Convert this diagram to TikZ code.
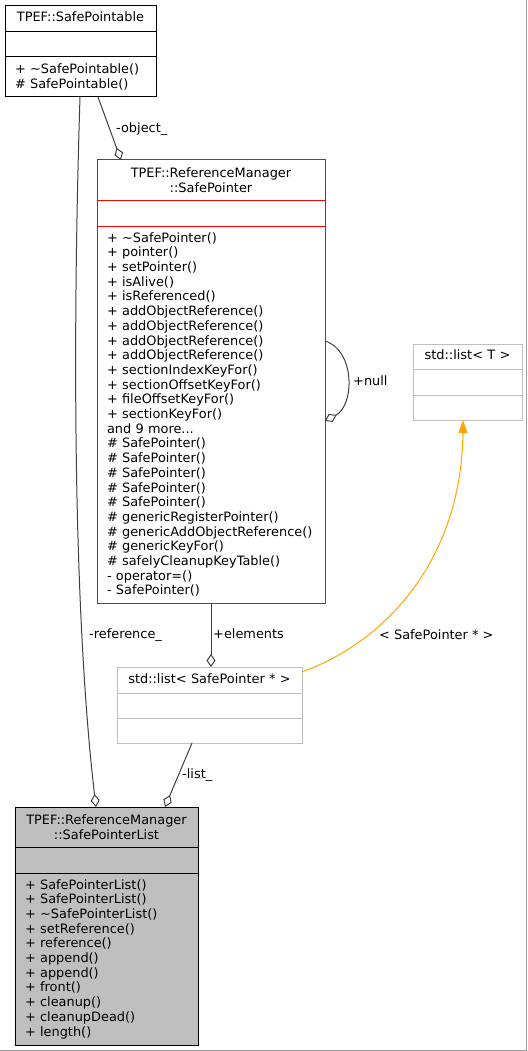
\documentclass[tikz,border=0pt]{standalone}
\usepackage{fontspec}
\setmainfont{DejaVu Sans}
\usetikzlibrary{positioning,calc,arrows.meta}

\definecolor{edgegray}{HTML}{404040}
\definecolor{boxred}{HTML}{FF0000}
\definecolor{boxgray}{HTML}{BFBFBF}
\definecolor{fillgray}{HTML}{BFBFBF}
\definecolor{tmplorange}{HTML}{FFA500}
\definecolor{framegray}{HTML}{A0A0A0}

\newcommand{\dxfont}{\fontsize{12.9pt}{14.7pt}\selectfont}

\tikzset{
  umlbox/.style={draw=#1, line width=1pt, outer sep=0pt, inner xsep=10pt, inner ysep=0pt, font=\dxfont},
  titlepart/.style={align=center},
  oneline/.style={text height=9.8pt, text depth=3.8pt},
  bodypart/.style={align=left},
  relline/.style={draw=edgegray, line width=1pt},
  aggline/.style={relline, -{Diamond[open, length=13pt, width=9pt]}},
  tmplline/.style={draw=tmplorange, line width=1pt, -{Triangle[length=13pt, width=9pt]}},
  rellabel/.style={anchor=west, inner sep=0pt, font=\dxfont},
}

\begin{document}
\begin{tikzpicture}[x=1pt, y=-1pt]
  \useasboundingbox (0,0) rectangle (527,1051);

  % TPEF::SafePointable
  \node[umlbox=black, titlepart, oneline, text width=131pt, minimum height=26pt, anchor=north west] (ptbl-t) at (5,6) {TPEF::SafePointable};
  \node[umlbox=black, minimum width=151pt, minimum height=25pt, below=0pt of ptbl-t] (ptbl-a) {};
  \node[umlbox=black, bodypart, text width=131pt, minimum height=40pt, below=0pt of ptbl-a] (ptbl-m)
    {+~\textasciitilde SafePointable()\\\#~SafePointable()};

  % TPEF::ReferenceManager::SafePointer
  \node[umlbox=boxred, titlepart, text width=208pt, minimum height=40.7pt, anchor=north west] (sptr-t) at (97,160) {TPEF::ReferenceManager\\::SafePointer};
  \node[umlbox=boxred, minimum width=228pt, minimum height=25.3pt, below=0pt of sptr-t] (sptr-a) {};
  \node[umlbox=boxred, bodypart, text width=208pt, minimum height=377pt, below=0pt of sptr-a] (sptr-m)
    {+~\textasciitilde SafePointer()\\+~pointer()\\+~setPointer()\\+~isAlive()\\+~isReferenced()\\
     +~addObjectReference()\\+~addObjectReference()\\+~addObjectReference()\\+~addObjectReference()\\
     +~sectionIndexKeyFor()\\+~sectionOffsetKeyFor()\\+~fileOffsetKeyFor()\\+~sectionKeyFor()\\
     and~9~more...\\\#~SafePointer()\\\#~SafePointer()\\\#~SafePointer()\\\#~SafePointer()\\\#~SafePointer()\\
     \#~genericRegisterPointer()\\\#~genericAddObjectReference()\\\#~genericKeyFor()\\
     \#~safelyCleanupKeyTable()\\-~operator=()\\-~SafePointer()};

  % std::list< T >
  \node[umlbox=boxgray, titlepart, oneline, text width=89pt, minimum height=25pt, anchor=north west] (tlist-t) at (413,344) {std::list<~T~>};
  \node[umlbox=boxgray, minimum width=109pt, minimum height=26pt, below=0pt of tlist-t] (tlist-a) {};
  \node[umlbox=boxgray, minimum width=109pt, minimum height=25pt, below=0pt of tlist-a] (tlist-m) {};

  % std::list< SafePointer * >
  \node[umlbox=boxgray, titlepart, oneline, text width=165pt, minimum height=26pt, anchor=north west] (plist-t) at (117,667) {std::list<~SafePointer~*~>};
  \node[umlbox=boxgray, minimum width=185pt, minimum height=25pt, below=0pt of plist-t] (plist-a) {};
  \node[umlbox=boxgray, minimum width=185pt, minimum height=25pt, below=0pt of plist-a] (plist-m) {};

  % TPEF::ReferenceManager::SafePointerList
  \node[umlbox=black, fill=fillgray, titlepart, text width=163pt, minimum height=40pt, anchor=north west] (spl-t) at (15,807) {TPEF::ReferenceManager\\::SafePointerList};
  \node[umlbox=black, fill=fillgray, minimum width=183pt, minimum height=26pt, below=0pt of spl-t] (spl-a) {};
  \node[umlbox=black, fill=fillgray, bodypart, text width=163pt, minimum height=172pt, below=0pt of spl-a] (spl-m)
    {+~SafePointerList()\\+~SafePointerList()\\+~\textasciitilde SafePointerList()\\+~setReference()\\
     +~reference()\\+~append()\\+~append()\\+~front()\\+~cleanup()\\+~cleanupDead()\\+~length()};

  % relations
  \draw[aggline] ($(ptbl-m.south west)+(93,0)$) -- ($(sptr-t.north west)+(24,0)$);
  \draw[aggline] ($(ptbl-m.south west)+(75,0)$) .. controls +(-8,253) and +(-22,-187) .. ($(spl-t.north west)+(81,0)$);
  \draw[aggline] ($(sptr-m.north east)+(0,115)$) .. controls +(30,9) and +(30,-16) .. ($(sptr-m.north east)+(0,195)$);
  \draw[aggline] ($(sptr-m.south west)+(114,0)$) -- ($(plist-t.north west)+(94,0)$);
  \draw[aggline] ($(plist-m.south west)+(75,0)$) -- ($(spl-t.north west)+(150,0)$);
  \draw[tmplline] ($(plist-t.north east)+(0,5)$) .. controls +(93,-34) and +(-1,130) .. ($(tlist-m.south west)+(50,0)$);

  \node[rellabel] (l-obj) at (116,128.8) {-object\_};
  \node[rellabel] (l-ref) at (89,635.5) {-reference\_};
  \node[rellabel] (l-null) at (353,380.5) {+null};
  \node[rellabel] (l-elem) at (213,634) {+elements};
  \node[rellabel] (l-tmpl) at (379,634.5) {<~SafePointer~*~>};
  \node[rellabel] (l-list) at (182,775) {-list\_};

  \draw[framegray, line width=1pt] (526.5,0) -- (526.5,1050.5) -- (0,1050.5);
\end{tikzpicture}
\end{document}
